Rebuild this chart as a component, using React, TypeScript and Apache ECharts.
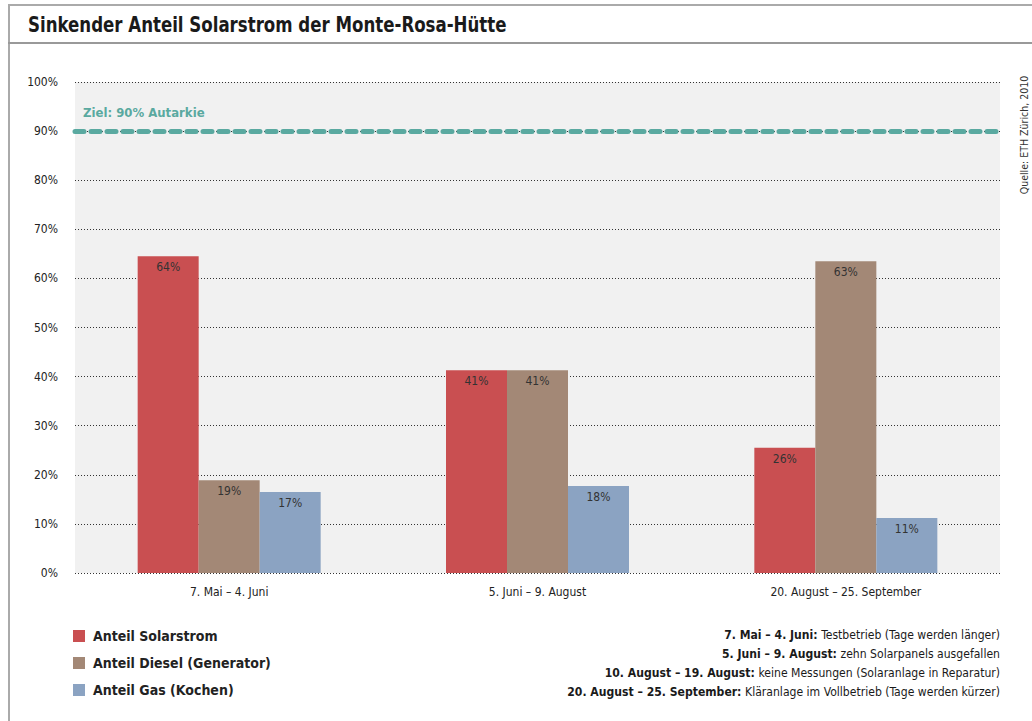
import React, { useEffect, useRef } from "react";
import * as echarts from "echarts";

const categories = ["7. Mai – 4. Juni", "5. Juni – 9. August", "20. August – 25. September"];
const solar = [64.5, 41.3, 25.5];
const diesel = [18.9, 41.3, 63.5];
const gas = [16.5, 17.7, 11.2];
const solarLabels = ["64%", "41%", "26%"];
const dieselLabels = ["19%", "41%", "63%"];
const gasLabels = ["17%", "18%", "11%"];
const seriesNames = ["Anteil Solarstrom", "Anteil Diesel (Generator)", "Anteil Gas (Kochen)"];
const target = 90;
const targetLabel = "Ziel: 90% Autarkie";
const title = "Sinkender Anteil Solarstrom der Monte-Rosa-Hütte";
const source = "Quelle: ETH Zürich, 2010";
const notes: [string, string][] = [
  ["7. Mai – 4. Juni:", " Testbetrieb (Tage werden länger)"],
  ["5. Juni – 9. August:", " zehn Solarpanels ausgefallen"],
  ["10. August – 19. August:", " keine Messungen (Solaranlage in Reparatur)"],
  ["20. August – 25. September:", " Kläranlage im Vollbetrieb (Tage werden kürzer)"],
];

const FONT = "'Liberation Sans Narrow', 'DejaVu Sans Condensed', 'Roboto', sans-serif";
const colors = ["#c94f51", "#a38876", "#8ba3c2"];
const teal = "#5aa9a0";

export default function App() {
  const ref = useRef<HTMLDivElement>(null);
  useEffect(() => {
    if (!ref.current) return;
    const chart = echarts.init(ref.current, undefined, { renderer: "svg" });
    const mkSeries = (i: number, data: number[], labels: string[]) => ({
      name: seriesNames[i],
      type: "bar",
      data,
      barWidth: 61,
      barGap: "0%",
      itemStyle: { color: colors[i] },
      label: {
        show: true,
        position: "insideTop",
        distance: 5,
        color: "#333",
        fontSize: 12,
        fontFamily: FONT,
        formatter: (p: any) => labels[p.dataIndex],
      },
      ...(i === 0
        ? {
            markLine: {
              silent: true,
              symbol: "none",
              data: [{ yAxis: target }],
              lineStyle: { color: teal, width: 5, type: [9, 7], cap: "round" },
              label: {
                show: true,
                position: "insideStartTop",
                formatter: targetLabel,
                color: teal,
                fontWeight: "bold",
                fontSize: 13,
                fontFamily: FONT,
                distance: [8, 12],
              },
            },
          }
        : {}),
    });
    const graphics: any[] = [
      { type: "line", shape: { x1: 9, y1: 5, x2: 9, y2: 721 }, style: { stroke: "#aaa", lineWidth: 2 } },
      { type: "line", shape: { x1: 8, y1: 5, x2: 1032, y2: 5 }, style: { stroke: "#aaa", lineWidth: 2 } },
      { type: "line", shape: { x1: 8, y1: 43, x2: 1032, y2: 43 }, style: { stroke: "#999", lineWidth: 2 } },
      {
        type: "text",
        x: 28,
        y: 25,
        scaleX: 0.88,
        style: { text: title, font: `bold 21px ${FONT}`, fill: "#1a1a1a", verticalAlign: "middle" },
      },
      {
        type: "text",
        x: 1024,
        y: 135,
        rotation: Math.PI / 2,
        style: { text: source, font: `10.5px ${FONT}`, fill: "#333", align: "center", verticalAlign: "middle" },
      },
    ];
    notes.forEach((n, i) => {
      graphics.push({
        type: "text",
        x: 1000,
        y: 634 + i * 19,
        scaleX: 0.93,
        style: {
          text: `{b|${n[0]}}{n|${n[1]}}`,
          align: "right",
          verticalAlign: "middle",
          rich: {
            b: { font: `bold 13px ${FONT}`, fill: "#1a1a1a" },
            n: { font: `13px ${FONT}`, fill: "#1a1a1a" },
          },
        },
      });
    });
    chart.setOption({
      animation: false,
      textStyle: { fontFamily: FONT },
      grid: {
        left: 75,
        right: 32,
        top: 82,
        bottom: 148,
        show: true,
        backgroundColor: "#f1f1f1",
        borderWidth: 0,
      },
      legend: {
        orient: "vertical",
        left: 68,
        top: 624,
        itemWidth: 12,
        itemHeight: 12,
        itemGap: 13,
        icon: "rect",
        data: seriesNames,
        textStyle: { fontWeight: "bold", fontSize: 14, color: "#222", fontFamily: FONT, padding: [0, 0, 0, 3] },
      },
      xAxis: {
        type: "category",
        data: categories,
        axisLine: { show: false },
        axisTick: { show: false },
        axisLabel: { color: "#222", fontSize: 12, margin: 13, fontFamily: FONT },
      },
      yAxis: {
        type: "value",
        min: 0,
        max: 100,
        interval: 10,
        axisLabel: { formatter: "{value}%", color: "#222", fontSize: 12, margin: 17, fontFamily: FONT },
        splitLine: { lineStyle: { color: "#333", type: [1, 2], width: 1 } },
        axisLine: { show: false },
        axisTick: { show: false },
      },
      series: [mkSeries(0, solar, solarLabels), mkSeries(1, diesel, dieselLabels), mkSeries(2, gas, gasLabels)],
      graphic: graphics,
    });
    return () => chart.dispose();
  }, []);
  return (
    <div
      ref={ref}
      style={{ position: "fixed", left: 0, top: 0, width: 1032, height: 721, background: "#fff" }}
    />
  );
}
